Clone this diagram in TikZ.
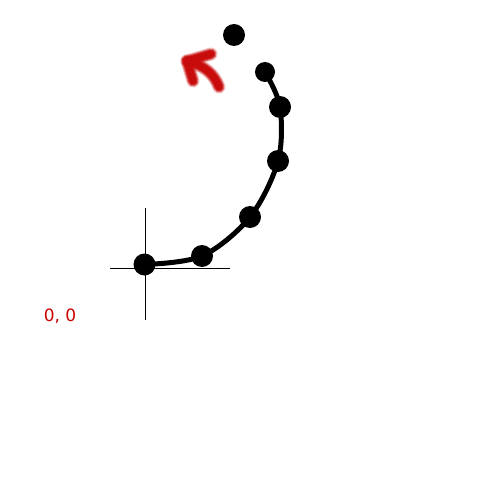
\documentclass[tikz,border=0pt]{standalone}
\usepackage{fontspec}
\setmainfont{DejaVu Sans}
\definecolor{penred}{RGB}{200,12,12}
\definecolor{labelred}{RGB}{204,0,0}

\begin{document}
\begin{tikzpicture}[
    x=1pt, y=-1pt,
    dot/.style={circle, fill=black, inner sep=0pt, minimum size=22pt},
    smalldot/.style={dot, minimum size=20pt},
    axis/.style={line width=1pt, draw=black},
    track/.style={line width=5pt, draw=black, line cap=round},
    pen/.style={draw=penred, line cap=round, line join=round},
    label/.style={text=labelred, font=\fontsize{17}{20}\selectfont, inner sep=0pt},
]
    \useasboundingbox (0,0) rectangle (500,500);

    % crosshair at the origin
    \coordinate (xleft)  at (110,268);
    \coordinate (xright) at (230,268);
    \coordinate (ytop)   at (145,208);
    \coordinate (ybot)   at (145,320);
    \draw[axis] (xleft) -- (xright);
    \draw[axis] (ytop) -- (ybot);

    \node[label] (originlabel) at (60,316) {0, 0};

    % points along the track
    \node[dot] (p0) at (144.5,264.5) {};
    \node[dot] (p1) at (202,256) {};
    \node[dot] (p2) at (250,217) {};
    \node[dot] (p3) at (278,161) {};
    \node[dot] (p4) at (280,107) {};
    \node[smalldot] (p5) at (265,72) {};
    \node[dot] (goal) at (234,35) {};

    \draw[track] plot[smooth, tension=0.55] coordinates {(p0.center) (p1.center) (p2.center) (p3.center) (p4.center) (p5.center)};

    % hand drawn arrow
    \coordinate (tip)   at (187,61);
    \coordinate (armup) at (211,54);
    \coordinate (armdn) at (193,81);
    \coordinate (tail)  at (219,87);
    \foreach \w/\o in {13/0.25, 11/0.45, 9/0.7, 7/1} {
        \draw[pen, line width=\w pt, opacity=\o] (armup) -- (tip) -- (armdn);
        \draw[pen, line width=\w pt, opacity=\o] (tip) .. controls (205,66) and (214,74) .. (tail);
    }
\end{tikzpicture}
\end{document}
